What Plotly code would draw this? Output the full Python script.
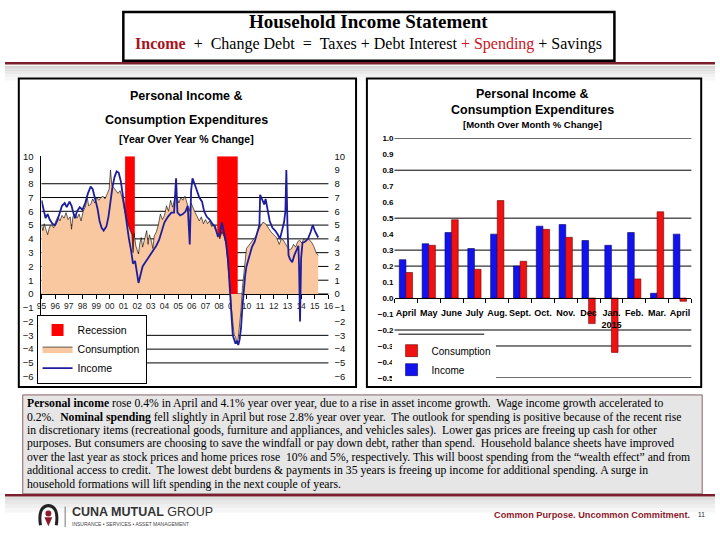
import plotly.graph_objects as go

W, H = 720, 540
SANS = "Liberation Sans, Arial, sans-serif"
SERIF = "Liberation Serif, Times New Roman, serif"
MAROON = "#7b1f2f"


def px(x):
    return x / W


def py(y):
    return 1 - y / H


# ---------------- Left chart: Year over Year % change ----------------
inc_x = [1995.00, 1995.15, 1995.30, 1995.45, 1995.60, 1995.80, 1996.00, 1996.15, 1996.35, 1996.50,
         1996.70, 1996.85, 1997.05, 1997.20, 1997.30, 1997.45, 1997.60, 1997.80, 1998.00, 1998.20,
         1998.40, 1998.60, 1998.75, 1998.90, 1999.10, 1999.25, 1999.40, 1999.55, 1999.75, 1999.90,
         2000.05, 2000.20, 2000.35, 2000.50, 2000.65, 2000.80, 2000.95, 2001.10, 2001.25, 2001.40,
         2001.55, 2001.70, 2001.85, 2002.00, 2002.10, 2002.25, 2002.40, 2002.60, 2002.80, 2003.00,
         2003.20, 2003.40, 2003.60, 2003.80, 2004.00, 2004.25, 2004.50, 2004.70, 2004.85, 2004.95,
         2005.15, 2005.35, 2005.55, 2005.70, 2005.85, 2005.95, 2006.05, 2006.20, 2006.35, 2006.55,
         2006.75, 2006.90, 2007.10, 2007.30, 2007.50, 2007.70, 2007.90, 2008.05, 2008.20, 2008.35,
         2008.50, 2008.65, 2008.80, 2008.90, 2009.00, 2009.10, 2009.20, 2009.30, 2009.40, 2009.50,
         2009.60, 2009.70, 2009.80, 2009.90, 2010.00, 2010.20, 2010.40, 2010.60, 2010.80, 2010.95,
         2011.00, 2011.15, 2011.30, 2011.40, 2011.55, 2011.70, 2011.90, 2012.10, 2012.30, 2012.45,
         2012.60, 2012.75, 2012.85, 2012.92, 2013.00, 2013.08, 2013.20, 2013.35, 2013.50, 2013.65,
         2013.80, 2013.85, 2013.92, 2014.00, 2014.10, 2014.30, 2014.50, 2014.70, 2014.85, 2015.00,
         2015.15, 2015.25]
inc_y = [6.8, 6.2, 5.5, 5.8, 5.4, 5.1, 5.0, 5.3, 6.0, 6.4,
         6.6, 6.3, 6.7, 6.4, 6.0, 5.5, 6.0, 6.3, 6.1, 6.6,
         7.3, 7.8, 7.6, 7.0, 6.2, 5.3, 4.8, 4.6, 4.9, 5.6,
         6.8, 7.8, 8.5, 8.9, 8.8, 8.2, 7.2, 6.0, 5.0, 4.0,
         3.2, 2.2, 2.4, 1.3, 0.8, 1.4, 2.0, 2.3, 2.6, 2.9,
         3.2, 3.5, 3.9, 4.6, 5.2, 5.6, 5.9, 5.9, 8.4, 5.9,
         5.7, 5.8, 6.0, 6.4, 3.6, 7.5, 8.4, 8.0, 7.5, 7.0,
         6.7, 6.0, 5.6, 5.4, 5.1, 4.9, 4.2, 4.3, 5.2, 4.6,
         3.8, 2.5, 0.5, -1.5, -3.0, -3.3, -3.6, -3.4, -3.7, -3.3,
         -2.5, -1.0, 0.5, 1.3, 2.0, 2.8, 3.4, 3.8, 4.6, 5.0,
         7.2, 6.8, 6.5, 6.9, 6.0, 5.3, 4.8, 4.6, 4.3, 4.0,
         4.6, 5.2, 6.0, 9.0, 5.0, 2.8, 2.5, 2.3, 2.8, 3.2,
         3.5, 2.0, -2.0, 2.6, 3.7, 3.8, 4.0, 4.5, 5.0, 4.6,
         4.3, 4.1]

con_x = [1995.00, 1995.10, 1995.20, 1995.30, 1995.45, 1995.60, 1995.75, 1995.90, 1996.05, 1996.20,
         1996.35, 1996.50, 1996.65, 1996.80, 1996.95, 1997.10, 1997.20, 1997.30, 1997.45, 1997.60,
         1997.75, 1997.90, 1998.05, 1998.20, 1998.35, 1998.45, 1998.60, 1998.75, 1998.90, 1999.05,
         1999.20, 1999.35, 1999.50, 1999.65, 1999.80, 1999.95, 2000.05, 2000.15, 2000.30, 2000.45,
         2000.60, 2000.75, 2000.90, 2001.05, 2001.20, 2001.35, 2001.50, 2001.62, 2001.70, 2001.78,
         2001.90, 2002.00, 2002.10, 2002.20, 2002.30, 2002.40, 2002.55, 2002.70, 2002.80, 2002.90,
         2003.05, 2003.15, 2003.25, 2003.40, 2003.55, 2003.70, 2003.85, 2004.00, 2004.15, 2004.30,
         2004.45, 2004.60, 2004.75, 2004.90, 2005.05, 2005.20, 2005.35, 2005.50, 2005.65, 2005.80,
         2005.95, 2006.10, 2006.25, 2006.40, 2006.55, 2006.70, 2006.85, 2007.00, 2007.15, 2007.30,
         2007.45, 2007.60, 2007.75, 2007.90, 2008.05, 2008.20, 2008.35, 2008.50, 2008.65, 2008.80,
         2008.90, 2009.00, 2009.10, 2009.20, 2009.30, 2009.40, 2009.50, 2009.60, 2009.70, 2009.80,
         2009.90, 2010.00, 2010.15, 2010.30, 2010.50, 2010.70, 2010.85, 2011.00, 2011.20, 2011.40,
         2011.60, 2011.80, 2012.00, 2012.20, 2012.40, 2012.55, 2012.70, 2012.85, 2013.00, 2013.15,
         2013.30, 2013.45, 2013.60, 2013.75, 2013.90, 2014.05, 2014.20, 2014.35, 2014.50, 2014.65,
         2014.80, 2014.95, 2015.10, 2015.25]
con_y = [5.0, 4.6, 5.1, 4.8, 4.3, 4.9, 5.0, 4.8, 5.3, 5.6,
         5.3, 5.7, 5.5, 5.9, 5.4, 5.6, 4.7, 5.6, 5.8, 5.5,
         5.8, 5.3, 6.0, 6.3, 7.0, 6.4, 6.5, 6.9, 6.6, 7.0,
         6.8, 7.0, 7.1, 6.9, 7.3, 7.6, 9.0, 7.9, 7.7, 7.5,
         7.3, 7.5, 7.0, 6.2, 5.5, 5.0, 4.6, 4.3, 3.0, 4.4,
         3.5, 3.2, 2.9, 3.7, 4.1, 3.4, 4.0, 4.6, 3.6, 4.3,
         3.8, 3.3, 4.2, 4.5, 5.0, 5.8, 5.4, 5.7, 6.4, 6.0,
         6.8, 6.3, 6.9, 7.1, 6.6, 7.0, 6.8, 7.1, 6.6, 6.0,
         6.6, 6.2, 5.9, 5.6, 5.3, 5.6, 5.1, 5.4, 5.1, 5.3,
         4.9, 5.0, 4.6, 4.4, 4.0, 4.5, 4.2, 3.6, 2.2, 0.5,
         -1.0, -2.2, -3.0, -3.1, -3.6, -3.2, -2.4, -1.2, 0.4, 1.5,
         2.8, 3.3, 3.5, 3.7, 3.9, 4.2, 4.6, 4.9, 5.2, 5.1,
         4.8, 4.5, 4.3, 4.1, 3.6, 4.0, 3.9, 3.6, 3.4, 3.2,
         3.3, 3.6, 3.4, 3.8, 3.9, 3.7, 4.0, 3.9, 4.0, 3.9,
         3.7, 3.4, 3.0, 2.8]

rec_start = [2001.12, 2007.86]
rec_end = [2001.83, 2009.36]
rec_top = 10

year_ticks = list(range(1995, 2017))
year_labels = ["95", "96", "97", "98", "99", "00", "01", "02", "03", "04", "05",
               "06", "07", "08", "09", "10", "11", "12", "13", "14", "15", "16"]
yoy_ticks = list(range(-6, 11))
yoy_grid = [8, 7, 6, 5, 4, 3, 2, 1, 0, -3, -4, -5]

# ---------------- Right chart: Month over Month % change ----------------
months = ["Apr 2014", "May 2014", "Jun 2014", "Jul 2014", "Aug 2014", "Sep 2014", "Oct 2014",
          "Nov 2014", "Dec 2014", "Jan 2015", "Feb 2015", "Mar 2015", "Apr 2015"]
month_labels = ["April", "May", "June", "July", "Aug.", "Sept.", "Oct.", "Nov.", "Dec",
                "Jan.<br>2015", "Feb.", "Mar.", "April"]
inc_mom = [0.24, 0.34, 0.41, 0.31, 0.40, 0.20, 0.45, 0.46, 0.36, 0.33, 0.41, 0.03, 0.40]
con_mom = [0.16, 0.33, 0.49, 0.18, 0.61, 0.23, 0.43, 0.38, -0.16, -0.34, 0.12, 0.54, -0.02]
mom_grid = [1.0, 0.8, 0.5, 0.3, 0.2, -0.2, -0.3, -0.5]

note_lines = [
    "<b>Personal income</b> rose 0.4% in April and 4.1% year over year, due to a rise in asset income growth.\u00a0 Wage income growth accelerated to",
    "0.2%.\u00a0 <b>Nominal spending</b> fell slightly in April but rose 2.8% year over year.\u00a0 The outlook for spending is positive because of the recent rise",
    "in discretionary items (recreational goods, furniture and appliances, and vehicles sales).\u00a0 Lower gas prices are freeing up cash for other",
    "purposes. But consumers are choosing to save the windfall or pay down debt, rather than spend.\u00a0 Household balance sheets have improved",
    "over the last year as stock prices and home prices rose \u00a010% and 5%, respectively. This will boost spending from the \u201cwealth effect\u201d and from",
    "additional access to credit.\u00a0 The lowest debt burdens & payments in 35 years is freeing up income for additional spending. A surge in",
    "household formations will lift spending in the next couple of years.",
]

fig = go.Figure()

# Left chart traces
fig.add_trace(go.Bar(
    x=[(s + e) / 2 for s, e in zip(rec_start, rec_end)],
    y=[rec_top] * len(rec_start),
    width=[e - s for s, e in zip(rec_start, rec_end)],
    marker=dict(color="#ff0000", line=dict(width=0)),
    name="Recession", xaxis="x", yaxis="y", legend="legend",
))
fig.add_trace(go.Scatter(
    x=con_x, y=con_y, mode="lines", fill="tozeroy", fillcolor="#f9c8a0",
    line=dict(color="black", width=0.6), name="Consumption",
    xaxis="x", yaxis="y", legend="legend",
))
fig.add_trace(go.Scatter(
    x=inc_x, y=inc_y, mode="lines", line=dict(color="#1e1e9c", width=1.8),
    name="Income", xaxis="x", yaxis="y2", legend="legend",
))

# Right chart traces
xm = list(range(len(months)))
fig.add_trace(go.Bar(
    x=xm, y=inc_mom, name="Income", customdata=months,
    marker=dict(color="#1212ee", line=dict(color="#000070", width=0.6)),
    xaxis="x3", yaxis="y3", legend="legend2",
))
fig.add_trace(go.Bar(
    x=xm, y=con_mom, name="Consumption", customdata=months,
    marker=dict(color="#ee1212", line=dict(color="#700000", width=0.6)),
    xaxis="x3", yaxis="y3", legend="legend2",
))

shapes = []
# band backgrounds
for i, c in enumerate(["#d6d6d6", "#e0e0e0", "#e9e9e9", "#f1f1f1", "#f7f7f7"]):
    shapes.append(dict(type="rect", xref="paper", yref="paper", layer="below",
                       x0=0, x1=1, y0=py(61 + i * 3 + 3), y1=py(61 + i * 3),
                       fillcolor=c, line=dict(width=0)))
# chart frames
shapes.append(dict(type="rect", xref="paper", yref="paper", layer="below",
                   x0=px(14), x1=px(356), y0=py(389), y1=py(74),
                   fillcolor="white", line=dict(color="black", width=2)))
shapes.append(dict(type="rect", xref="paper", yref="paper", layer="below",
                   x0=px(367), x1=px(706), y0=py(389), y1=py(74),
                   fillcolor="white", line=dict(color="black", width=2)))
# gridlines
for g in yoy_grid:
    shapes.append(dict(type="line", xref="paper", yref="y", layer="below",
                       x0=px(37), x1=px(328), y0=g, y1=g,
                       line=dict(color="black", width=1)))
for g in mom_grid:
    shapes.append(dict(type="line", xref="paper", yref="y3", layer="below",
                       x0=px(395), x1=px(696), y0=g, y1=g,
                       line=dict(color="black", width=1)))
# right legend top edge
shapes.append(dict(type="line", xref="paper", yref="paper", layer="above",
                   x0=px(399), x1=px(486), y0=py(335), y1=py(335),
                   line=dict(color="black", width=1)))
# title box
shapes.append(dict(type="rect", xref="paper", yref="paper",
                   x0=px(120), x1=px(618), y0=py(56), y1=py(6),
                   fillcolor="white", line=dict(color="black", width=2.5), layer="below"))
# maroon rules
for yy in [58.5, 499.5]:
    shapes.append(dict(type="line", xref="paper", yref="paper",
                       x0=0, x1=1, y0=py(yy), y1=py(yy),
                       line=dict(color=MAROON, width=2.5)))
# commentary box
shapes.append(dict(type="rect", xref="paper", yref="paper", layer="below",
                   x0=px(18), x1=px(707), y0=py(498), y1=py(397),
                   fillcolor="#e6e6e6", line=dict(color="#8a6068", width=1)))
# footer gradient
for i, c in enumerate(["#dedede", "#e7e7e7", "#efefef", "#f6f6f6"]):
    shapes.append(dict(type="rect", xref="paper", yref="paper", layer="below",
                       x0=0, x1=1, y0=py(501 + i * 4 + 4), y1=py(501 + i * 4),
                       fillcolor=c, line=dict(width=0)))
# logo
shapes.append(dict(type="path", xref="paper", yref="paper",
                   path=f"M {px(36)},{py(530)} Q {px(33)},{py(511)} {px(44)},{py(510)} "
                        f"Q {px(55)},{py(511)} {px(52)},{py(530)}",
                   line=dict(color="#222222", width=3)))
shapes.append(dict(type="circle", xref="paper", yref="paper",
                   x0=px(41), x1=px(47), y0=py(521), y1=py(515),
                   fillcolor="#8b1a2b", line=dict(width=0)))
shapes.append(dict(type="path", xref="paper", yref="paper",
                   path=f"M {px(40)},{py(522)} L {px(48)},{py(522)} L {px(44)},{py(531)} Z",
                   fillcolor="#8b1a2b", line=dict(width=0)))
shapes.append(dict(type="line", xref="paper", yref="paper",
                   x0=px(61), x1=px(61), y0=py(532), y1=py(511),
                   line=dict(color="#777777", width=1)))

annotations = []


def txt(x, y, text, size, family=SANS, color="black", bold=False, xanchor="center"):
    annotations.append(dict(
        x=px(x), y=py(y), xref="paper", yref="paper", text=text, showarrow=False,
        xanchor=xanchor, yanchor="middle",
        font=dict(family=family, size=size, color=color, weight="bold" if bold else "normal"),
    ))


# header
txt(369, 16, "Household Income Statement", 19, SERIF, bold=True)
txt(369, 39,
    '<span style="color:#a8141c"><b>Income</b></span>\u00a0 + \u00a0Change Debt \u00a0= \u00a0Taxes + Debt Interest '
    '<span style="color:#c8141e">+ Spending</span> + Savings', 16, SERIF)
# chart titles
txt(184, 92, "Personal Income &", 12.5, bold=True)
txt(184, 116, "Consumption Expenditures", 12.5, bold=True)
txt(184, 136, "[Year Over Year % Change]", 10.5, bold=True)
txt(535, 90, "Personal Income &", 12.5, bold=True)
txt(535, 106, "Consumption Expenditures", 12.5, bold=True)
txt(535, 121, "[Month Over Month % Change]", 9.5, bold=True)
# commentary
for i, line in enumerate(note_lines):
    txt(20, 406 + i * 13.7, line, 11.7, SERIF, xanchor="left")
# footer
txt(66, 517, "<b>CUNA MUTUAL</b> GROUP", 12.5, SANS, color="#333333", xanchor="left")
txt(66, 529, "INSURANCE \u2022 SERVICES \u2022 ASSET MANAGEMENT", 5, SANS, color="#444444", xanchor="left")
txt(697, 520, "Common Purpose. Uncommon Commitment.", 9.2, SANS, color="#8b1a2b", bold=True, xanchor="right")
txt(706, 519, "11", 6.5, SANS, color="#222222")

tick_font = dict(family=SANS, size=9.5, color="#111111")

fig.update_layout(
    width=W, height=H, margin=dict(l=0, r=0, t=0, b=0),
    paper_bgcolor="white", plot_bgcolor="rgba(0,0,0,0)",
    barmode="group", bargap=0.42, bargroupgap=0,
    shapes=shapes, annotations=annotations,
    xaxis=dict(domain=[px(37), px(328)], range=[1995, 2016], anchor="free", position=py(294),
               tickmode="array", tickvals=year_ticks, ticktext=year_labels,
               ticks="outside", ticklen=4, tickcolor="black", tickangle=0,
               showline=True, linecolor="black", linewidth=1,
               showgrid=False, zeroline=False, layer="below traces",
               tickfont=dict(family=SANS, size=8.5, color="#222222")),
    yaxis=dict(domain=[py(378.4), py(153.3)], range=[-6, 10], anchor="x",
               tickmode="array", tickvals=yoy_ticks, ticks="", ticklabelstandoff=5,
               showline=True, linecolor="black", linewidth=1,
               showgrid=False, zeroline=False, tickfont=tick_font),
    yaxis2=dict(overlaying="y", side="right", anchor="x", range=[-6, 10],
                tickmode="array", tickvals=yoy_ticks, ticks="", ticklabelstandoff=5,
                showline=False, showgrid=False, zeroline=False, tickfont=tick_font),
    xaxis3=dict(domain=[px(395), px(696)], range=[-0.5, len(months) - 0.5],
                anchor="free", position=py(298.1),
                tickmode="array", tickvals=xm, ticktext=month_labels, ticks="", tickangle=0,
                ticklabelstandoff=6,
                minor=dict(ticks="outside", tick0=0.5, dtick=1, ticklen=4, tickcolor="black"),
                showline=True, linecolor="black", linewidth=1,
                showgrid=False, zeroline=False,
                tickfont=dict(family=SANS, size=9, color="black", weight="bold")),
    yaxis3=dict(domain=[py(379.7), py(135)], range=[-0.5001, 1.0001], anchor="x3",
                tick0=0, dtick=0.1, tickformat=".1f", ticks="",
                showline=False, showgrid=False, zeroline=False,
                tickfont=dict(family=SANS, size=8, color="black", weight="bold")),
    legend=dict(x=px(32), y=py(315), xanchor="left", yanchor="top",
                bgcolor="white", bordercolor="black", borderwidth=1,
                font=dict(family=SANS, size=10.5, color="black"),
                tracegroupgap=0, itemwidth=30),
    legend2=dict(x=px(392), y=py(337), xanchor="left", yanchor="top",
                 bgcolor="white", borderwidth=0, traceorder="reversed",
                 font=dict(family=SANS, size=10, color="black"),
                 tracegroupgap=0, itemwidth=30),
)

fig.write_html("out.html", post_script="document.body.style.margin='0px';",
               config={"displayModeBar": False})
